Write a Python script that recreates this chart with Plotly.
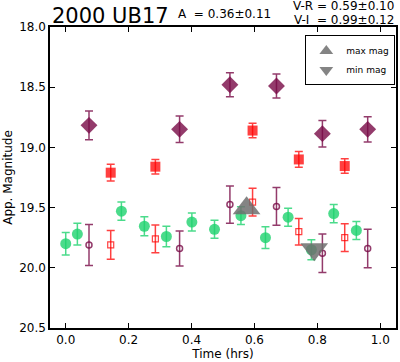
import plotly.graph_objects as go

# Data
g_t = [0.0, 0.037, 0.177, 0.25, 0.32, 0.401, 0.473, 0.557, 0.635, 0.707, 0.781, 0.852, 0.924]
g_m = [19.80, 19.72, 19.53, 19.655, 19.74, 19.62, 19.68, 19.567, 19.75, 19.58, 19.85, 19.55, 19.69]
g_e = [0.093, 0.09, 0.076, 0.078, 0.085, 0.075, 0.075, 0.074, 0.09, 0.074, 0.083, 0.075, 0.075]

r_t = [0.143, 0.285, 0.594, 0.741, 0.887]
r_m = [19.21, 19.16, 18.86, 19.10, 19.155]
r_e = [0.07, 0.06, 0.06, 0.065, 0.06]
ro_m = [19.81, 19.76, 19.455, 19.70, 19.75]
ro_e = [0.12, 0.115, 0.115, 0.11, 0.115]

p_t = [0.074, 0.362, 0.522, 0.670, 0.816, 0.960]
p_m = [18.817, 18.85, 18.48, 18.49, 18.886, 18.85]
p_e = [0.12, 0.11, 0.10, 0.10, 0.11, 0.105]
po_m = [19.81, 19.84, 19.475, 19.49, 19.88, 19.84]
po_e = [0.17, 0.146, 0.155, 0.157, 0.16, 0.16]

max_t = [0.575]
max_m = [19.505]
min_t = [0.79]
min_m = [19.845]

GREEN = "rgba(30,210,110,0.8)"
RED = "rgba(255,0,0,0.75)"
PURPLE = "rgba(120,10,70,0.8)"
GRAY = "rgba(110,110,110,0.85)"

fig = go.Figure()

def add(t, m, e, symbol, size, color, line_w=0):
    fig.add_trace(go.Scatter(
        x=t, y=m, mode="markers", showlegend=False,
        marker=dict(symbol=symbol, size=size, color=color,
                    line=dict(width=line_w, color=color)),
        error_y=dict(type="data", array=e, visible=True, color=color,
                     thickness=1.5, width=4)))

add(g_t, g_m, g_e, "circle", 11, GREEN)
add(r_t, r_m, r_e, "square", 10, RED)
add(r_t, ro_m, ro_e, "square-open", 6, RED, 1.2)
add(p_t, p_m, p_e, "diamond", 13, PURPLE)
add(p_t, po_m, po_e, "circle-open", 6, PURPLE, 1.5)

fig.add_trace(go.Scatter(x=max_t, y=max_m, mode="markers", name="max mag",
                         marker=dict(symbol="triangle-up", size=24, color=GRAY)))
fig.add_trace(go.Scatter(x=min_t, y=min_m, mode="markers", name="min mag",
                         marker=dict(symbol="triangle-down", size=24, color=GRAY)))

FONT = "DejaVu Sans"
axis_common = dict(showline=True, linecolor="black", linewidth=1.5, mirror="allticks",
                   ticks="inside", ticklen=5, tickcolor="black", showgrid=False,
                   zeroline=False, tickfont=dict(family=FONT, size=12, color="black"))

fig.update_layout(
    width=400, height=362,
    margin=dict(l=50, r=2, t=27, b=34),
    plot_bgcolor="white", paper_bgcolor="white",
    font=dict(family=FONT, color="black"),
    xaxis=dict(range=[-0.05, 1.05], tickvals=[0.0, 0.2, 0.4, 0.6, 0.8, 1.0],
               ticktext=["0.0", "0.2", "0.4", "0.6", "0.8", "1.0"],
               title=dict(text="Time (hrs)", font=dict(size=12), standoff=2), **axis_common),
    yaxis=dict(range=[20.5, 18.0], tickvals=[18.0, 18.5, 19.0, 19.5, 20.0, 20.5],
               ticktext=["18.0", "18.5", "19.0", "19.5", "20.0", "20.5"],
               title=dict(text="App. Magnitude", font=dict(size=12), standoff=4), **axis_common),
    legend=dict(x=0.998, y=0.972, xanchor="right", yanchor="top",
                bordercolor="black", borderwidth=1, bgcolor="white",
                font=dict(family=FONT, size=9), itemsizing="constant",
                itemwidth=30, tracegroupgap=0),
    annotations=[
        dict(text="2000 UB17", x=0, y=1.0, xref="paper", yref="paper",
             xanchor="left", yanchor="bottom", showarrow=False, yshift=-3,
             font=dict(size=21, family=FONT)),
        dict(text="A  = 0.36±0.11", x=0.505, y=1.0, xref="paper", yref="paper",
             xanchor="center", yanchor="bottom", showarrow=False, yshift=4,
             font=dict(size=12, family=FONT)),
        dict(text="V-R = 0.59±0.10", x=1.0, y=1.0, xref="paper", yref="paper",
             xanchor="right", yanchor="bottom", showarrow=False, yshift=12,
             font=dict(size=12, family=FONT)),
        dict(text="V-I  = 0.99±0.12", x=1.0, y=1.0, xref="paper", yref="paper",
             xanchor="right", yanchor="bottom", showarrow=False, yshift=-2,
             font=dict(size=12, family=FONT)),
    ],
)

fig.write_html("out.html", config={"displayModeBar": False},
               post_script="document.body.style.margin='0';document.body.style.overflow='hidden';")
